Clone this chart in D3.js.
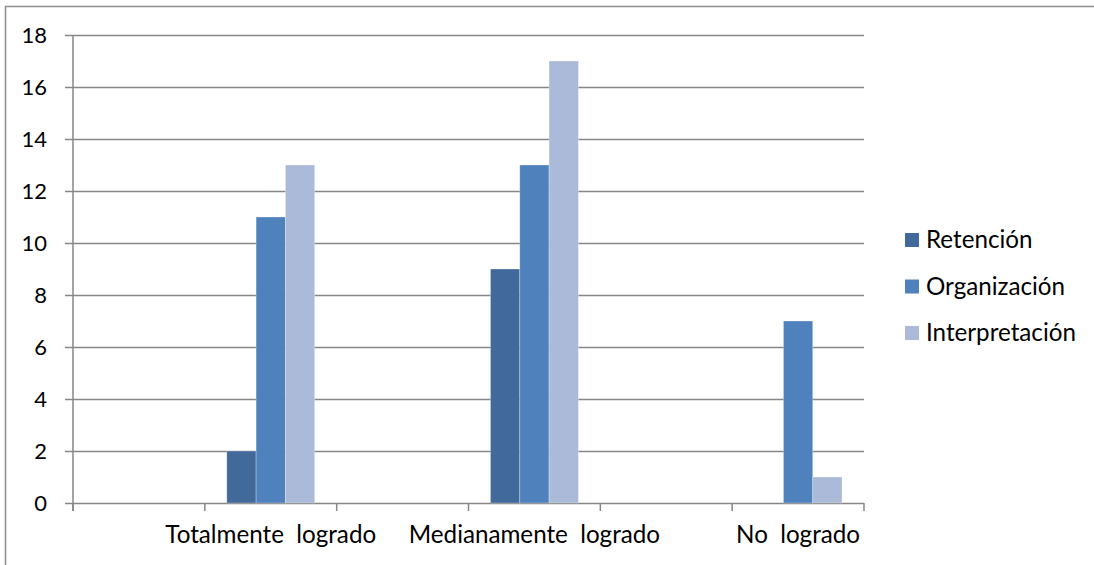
<!DOCTYPE html>
<html><head><meta charset="utf-8">
<script src="https://cdn.jsdelivr.net/npm/d3@7"></script>
<style>body{margin:0;background:#fff}svg{display:block}text{font-family:Lato,"Open Sans",sans-serif}</style>
</head><body>
<script>
const categories = ["c0", "Totalmente  logrado", "c2", "Medianamente  logrado", "c4", "No  logrado"];
const categoryLabels = ["", "Totalmente  logrado", "", "Medianamente  logrado", "", "No  logrado"];
const series = ["Retención", "Organización", "Interpretación"];
const retencion = [null, 2, null, 9, null, 0];
const organizacion = [null, 11, null, 13, null, 7];
const interpretacion = [null, 13, null, 17, null, 1];
const yTicks = [0, 2, 4, 6, 8, 10, 12, 14, 16, 18];
const colors = ["#41699A", "#4F81BD", "#AABAD8"];

const W = 1094, H = 565;
const FS = 24.2;
const svg = d3.select("body").append("svg").attr("width", W).attr("height", H);
svg.append("rect").attr("x", 5.5).attr("y", 6.5).attr("width", W + 10).attr("height", H + 10)
  .attr("fill", "none").attr("stroke", "#8c8c8c").attr("stroke-width", 1.5);

const L = 73, R = 864, T = 35, B = 503;
const x0 = d3.scaleBand().domain(categories).range([L, R]);
const y = d3.scaleLinear().domain([0, 18]).range([B, T]);
const bw = x0.bandwidth() / 4.5;
const x1 = d3.scaleBand().domain(series).range([0.75 * bw, 3.75 * bw]);

svg.append("g").selectAll("line").data(yTicks).join("line")
  .attr("x1", L - 8).attr("x2", R).attr("y1", d => Math.round(y(d)) + 0.5).attr("y2", d => Math.round(y(d)) + 0.5)
  .attr("stroke", "#868686").attr("stroke-width", 1.5);
svg.append("line").attr("x1", L).attr("x2", L).attr("y1", T).attr("y2", B + 8).attr("stroke", "#868686").attr("stroke-width", 1.5);
const bounds = categories.map(c => x0(c)).concat([R]);
svg.append("g").selectAll("line").data(bounds).join("line")
  .attr("x1", d => d).attr("x2", d => d).attr("y1", B).attr("y2", B + 8)
  .attr("stroke", "#868686").attr("stroke-width", 1.5);
svg.append("g").selectAll("text").data(yTicks).join("text")
  .attr("x", 47).attr("y", d => y(d)).attr("dy", "0.35em").attr("text-anchor", "end")
  .attr("font-size", 22).attr("fill", "#000").text(d => d);

const vals = [retencion, organizacion, interpretacion];
series.forEach((s, si) => {
  svg.append("g").selectAll("rect").data(categories.map((c, i) => ({c, v: vals[si][i]})).filter(d => d.v))
    .join("rect")
    .attr("x", d => x0(d.c) + x1(s)).attr("width", x1.bandwidth())
    .attr("y", d => y(d.v)).attr("height", d => B - y(d.v))
    .attr("fill", colors[si]).attr("stroke", "rgba(255,255,255,0.35)").attr("stroke-width", 0.8);
});

svg.append("g").selectAll("text").data(categories).join("text")
  .attr("x", d => x0(d) + x0.bandwidth() / 2).attr("y", 543).attr("text-anchor", "middle")
  .attr("font-size", FS).attr("fill", "#000").style("white-space", "pre").attr("xml:space", "preserve")
  .text((d, i) => categoryLabels[i]);

const lg = svg.append("g");
series.forEach((s, i) => {
  const cy = 240 + i * 46.5;
  lg.append("rect").attr("x", 905).attr("y", cy - 7).attr("width", 14).attr("height", 14).attr("fill", colors[i]);
  lg.append("text").attr("x", 926).attr("y", cy).attr("dy", "0.35em").attr("font-size", FS).text(s);
});
</script>
</body></html>
